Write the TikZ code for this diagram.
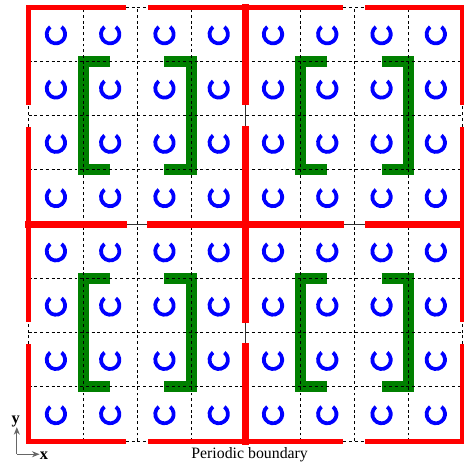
\documentclass[tikz,border=0pt]{standalone}
\usepackage{fontspec}
\setmainfont{Liberation Serif}
\usepackage{tikz}
\usetikzlibrary{arrows.meta}
\definecolor{wallred}{RGB}{255,0,0}
\definecolor{brkgreen}{RGB}{0,128,0}
\definecolor{ringblue}{RGB}{0,0,255}
\tikzset{
  cellgrid/.style={black, line width=0.5pt, dash pattern=on 1.5pt off 1.5pt},
  seam/.style={black!80, line width=0.6pt},
  wall/.style={wallred, line width=3.6pt, line cap=rect},
  edgewall/.style={wallred, line width=2.6pt, line cap=rect},
  bracket/.style={brkgreen, line width=5.8pt, line join=miter},
  ring/.style={fill=ringblue},
  axis/.style={-{Stealth[length=1.4mm,width=1.1mm]}, black!60, line width=0.5pt},
  lbl/.style={font=\fontsize{8.3}{10}\selectfont, inner sep=0pt},
}

\begin{document}
\begin{tikzpicture}
  \useasboundingbox (-0.53,-0.40) rectangle (8.02,8.13);
  % brackets
  \foreach \bx in {0,4}
    \foreach \by in {0,4} {
      \draw[bracket] (\bx+1.5,\by+3) -| (\bx+1,\by+1) -- (\bx+1.5,\by+1);
      \draw[bracket] (\bx+2.5,\by+3) -| (\bx+3,\by+1) -- (\bx+2.5,\by+1);
    }
  % cells
  \draw[cellgrid] (0,0) grid (8,8);
  \draw[seam] (4,0) -- (4,8);
  \draw[seam] (0,4) -- (8,4);
  % walls with gaps
  \foreach \a/\b in {0/1.75,2.25/5.75,6.25/8} {
    \foreach \p in {0,8} {
      \draw[edgewall] (\a,\p) -- (\b,\p);
      \draw[edgewall] (\p,\a) -- (\p,\b);
    }
    \draw[wall] (\a,4) -- (\b,4);
    \draw[wall] (4,\a) -- (4,\b);
  }
  % rings, open at the top
  \foreach \i in {0,...,7}
    \foreach \j in {0,...,7}
      \path[ring] (\i+0.5,\j+0.5) ++(128:0.205) arc[start angle=128, end angle=412, radius=0.205]
        -- ++(232:0.07) arc[start angle=412, end angle=128, radius=0.135] -- cycle;
  % axes and caption
  \coordinate (o) at (-0.22,-0.24);
  \node[lbl,font=\fontsize{8.6}{10}\selectfont\bfseries,anchor=west] (xl) at (0.2,-0.27) {x};
  \node[lbl,font=\fontsize{8.6}{10}\selectfont\bfseries,anchor=south] (yl) at (-0.24,0.26) {y};
  \draw[axis] (o) -- (o -| xl.west);
  \draw[axis] (o) -- (o |- yl.south);
  \node[lbl] (cap) at (4.07,-0.24) {Periodic boundary};
\end{tikzpicture}
\end{document}
